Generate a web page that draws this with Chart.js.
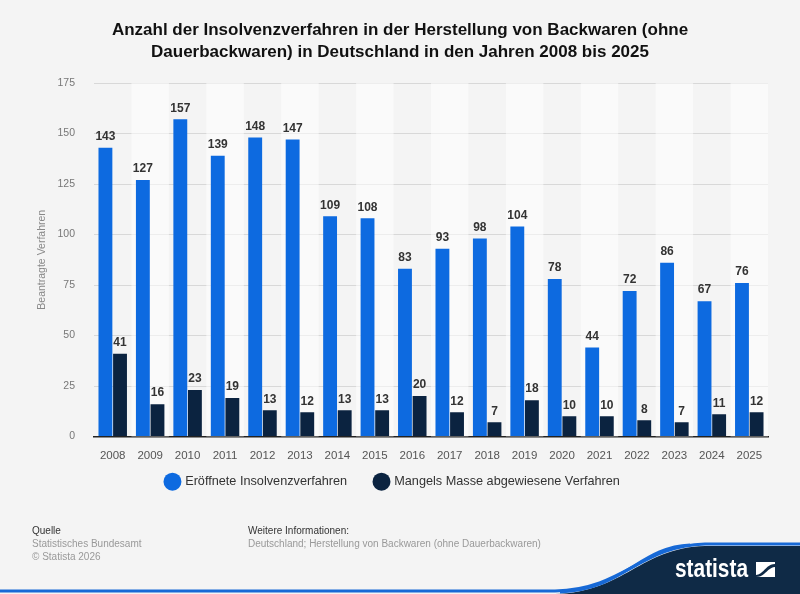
<!DOCTYPE html>
<html>
<head>
<meta charset="utf-8">
<script src="https://cdn.jsdelivr.net/npm/chart.js@4.4.1/dist/chart.umd.min.js"></script>
<style>
  html, body { margin: 0; padding: 0; background: #f4f4f4; }
  body { width: 800px; height: 594px; position: relative; overflow: hidden; font-family: "Liberation Sans", Arial, sans-serif; }
  #title { position: absolute; top: 19px; left: 0; width: 800px; text-align: center; font-weight: bold; font-size: 17px; line-height: 22px; color: #111; }
  #wrap { position: absolute; left: 0; top: 0; width: 800px; height: 594px; }
  .foot { position: absolute; font-size: 10px; line-height: 13px; color: #999; }
  .foot b { font-weight: normal; color: #333; }
  #logo { position: absolute; left: 0; top: 0; }
</style>
</head>
<body>
<div id="wrap"><canvas id="chart" width="800" height="594"></canvas></div>
<div id="title">Anzahl der Insolvenzverfahren in der Herstellung von Backwaren (ohne<br>Dauerbackwaren) in Deutschland in den Jahren 2008 bis 2025</div>
<div class="foot" style="left:32px; top:524px;"><b>Quelle</b><br>Statistisches Bundesamt<br>© Statista 2026</div>
<div class="foot" style="left:248px; top:524px;"><b>Weitere Informationen:</b><br>Deutschland; Herstellung von Backwaren (ohne Dauerbackwaren)</div>
<svg id="logo" width="800" height="594">
  <path d="M 555 594 C 625 592, 640 548, 705 546 L 800 546 L 800 594 Z" fill="#0f2a46"/>
  <path d="M 0 591 L 555 591 C 625 589, 640 546, 705 544 L 800 544" fill="none" stroke="#1769d6" stroke-width="3"/>
  <path d="M 560 592 C 625 589, 640 547, 690 545" fill="none" stroke="#1769d6" stroke-width="3"/>
  <text x="675" y="577" fill="#ffffff" font-family="Liberation Sans, Arial, sans-serif" font-weight="bold" font-size="25" textLength="73" lengthAdjust="spacingAndGlyphs">statista</text>
  <rect x="756" y="562" width="19" height="15" fill="#ffffff"/>
  <path d="M 756 575 C 763 575, 766 564, 775 564 L 775 567 C 768 567, 765 577, 756 577 Z" fill="#0f2a46"/>
</svg>
<script>
const years = ["2008","2009","2010","2011","2012","2013","2014","2015","2016","2017","2018","2019","2020","2021","2022","2023","2024","2025"];
const opened = [143, 127, 157, 139, 148, 147, 109, 108, 83, 93, 98, 104, 78, 44, 72, 86, 67, 76];
const rejected = [41, 16, 23, 19, 13, 12, 13, 13, 20, 12, 7, 18, 10, 10, 8, 7, 11, 12];
const seriesNames = ["Eröffnete Insolvenzverfahren", "Mangels Masse abgewiesene Verfahren"];
const yTicks = [0, 25, 50, 75, 100, 125, 150, 175];
const FONT = "'Liberation Sans', Arial, sans-serif";

// alternating light column bands behind the bars
const stripes = {
  id: "stripes",
  beforeDatasetsDraw(chart) {
    const { ctx, chartArea, scales } = chart;
    const x = scales.x;
    const step = x.width / years.length;
    ctx.save();
    ctx.fillStyle = "rgba(255,255,255,0.55)";
    years.forEach((y, i) => {
      if (i % 2 === 1) {
        const c = x.getPixelForValue(i);
        ctx.fillRect(c - step / 2, chartArea.top, step, chartArea.bottom - chartArea.top);
      }
    });
    ctx.restore();
  },
};

const valueLabels = {
  id: "valueLabels",
  afterDatasetsDraw(chart) {
    const { ctx } = chart;
    ctx.save();
    ctx.font = "bold 12px " + FONT;
    ctx.fillStyle = "#333";
    ctx.textAlign = "center";
    ctx.textBaseline = "bottom";
    chart.data.datasets.forEach((ds, di) => {
      chart.getDatasetMeta(di).data.forEach((bar, i) => {
        ctx.fillText(String(ds.data[i]), bar.x, bar.y - 5);
      });
    });
    ctx.restore();
  },
};

// pull the legend up closer to the axis labels, a touch left
const legendShift = {
  id: "legendShift",
  afterLayout(chart) {
    const lg = chart.legend;
    if (!lg) return;
    lg.top -= 27;
    lg.bottom -= 27;
    lg.left -= 6;
    lg.right -= 6;
  },
};

new Chart(document.getElementById("chart"), {
  type: "bar",
  data: {
    labels: years,
    datasets: [
      { label: seriesNames[0], data: opened, backgroundColor: "#0d6ae0", categoryPercentage: 0.78, barPercentage: 0.95 },
      { label: seriesNames[1], data: rejected, backgroundColor: "#0b2340", categoryPercentage: 0.78, barPercentage: 0.95 },
    ],
  },
  options: {
    responsive: false,
    animation: false,
    layout: { padding: { top: 83, bottom: 69, left: 30, right: 32 } },
    scales: {
      x: {
        grid: { display: false, drawTicks: false },
        border: { color: "#222", width: 1.5 },
        ticks: { color: "#555", font: { family: FONT, size: 11.5 }, padding: 12 },
      },
      y: {
        min: 0,
        max: 175,
        afterBuildTicks(axis) { axis.ticks = yTicks.map((v) => ({ value: v })); },
        afterFit(axis) { axis.width = 64; },
        grid: { color: "#d8d8d8", borderDash: [2, 2], drawTicks: false },
        border: { display: false },
        ticks: { color: "#777", font: { family: FONT, size: 10.5 }, padding: 19 },
        title: { display: true, text: "Beantragte Verfahren", color: "#888", font: { family: FONT, size: 10.5 }, padding: { top: 6, bottom: 0 } },
      },
    },
    plugins: {
      legend: {
        position: "bottom",
        labels: {
          usePointStyle: true,
          pointStyle: "circle",
          boxWidth: 14,
          boxHeight: 14,
          padding: 28,
          color: "#333",
          font: { family: FONT, size: 12.7 },
        },
      },
      tooltip: { enabled: false },
    },
  },
  plugins: [stripes, valueLabels, legendShift],
});
</script>
</body>
</html>
